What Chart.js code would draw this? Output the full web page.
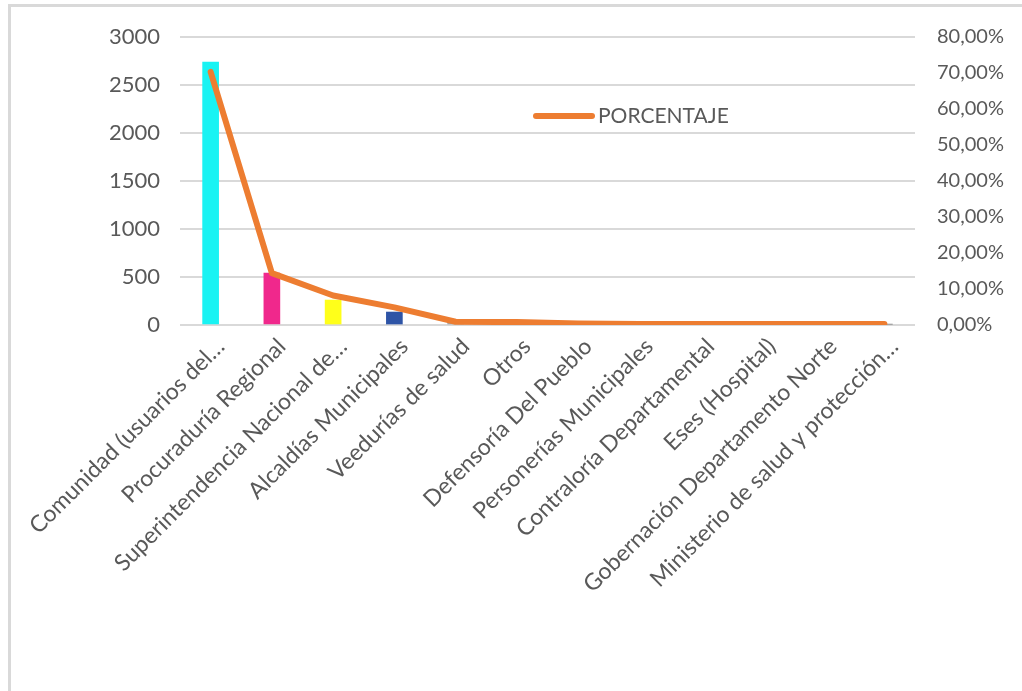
<!DOCTYPE html>
<html>
<head>
<meta charset="utf-8">
<script src="https://cdn.jsdelivr.net/npm/chart.js@4"></script>
<style>
  html, body { margin: 0; padding: 0; background: #fff; }
  #frame { position: absolute; left: 8px; top: 4px; right: -10px; bottom: -10px;
           border-left: 3px solid #d9d9d9; border-top: 3px solid #d9d9d9; }
  #wrap { position: absolute; left: 0; top: 0; width: 1022px; height: 691px; }
</style>
</head>
<body>
<div id="frame"></div>
<div id="wrap"><canvas id="chart"></canvas></div>
<script>
// Categorías (eje X)
const categorias = [
    'Comunidad (usuarios del…',
    'Procuraduría Regional',
    'Superintendencia Nacional de…',
    'Alcaldías Municipales',
    'Veedurías de salud',
    'Otros',
    'Defensoría Del Pueblo',
    'Personerías Municipales',
    'Contraloría Departamental',
    'Eses (Hospital)',
    'Gobernación Departamento Norte',
    'Ministerio de salud y protección…'
];

// Cantidad por entidad (eje izquierdo)
const cantidades = [2740, 540, 260, 135, 30, 25, 10, 8, 6, 5, 4, 3];

// Porcentaje (eje derecho)
const porcentajes = [70.3, 14.4, 8.2, 4.9, 0.9, 0.8, 0.4, 0.3, 0.3, 0.3, 0.3, 0.3];

const coloresBarras = ['#19f3f3', '#f0288c', '#ffff1a', '#2e54a6', '#a5a5a5', '#a5a5a5',
                       '#a5a5a5', '#a5a5a5', '#a5a5a5', '#a5a5a5', '#a5a5a5', '#a5a5a5'];

const leftTicks = [0, 500, 1000, 1500, 2000, 2500, 3000];

const FONT = 'Lato, "Open Sans", sans-serif';
const TXT = '#595959';

// leyenda dentro del área del gráfico
const insideLegend = {
    id: 'insideLegend',
    afterDraw(chart) {
        const ds = chart.data.datasets.find(d => d.type === 'line');
        const ctx = chart.ctx;
        const a = chart.chartArea;
        const x0 = a.left + 356, y0 = a.top + 79;
        ctx.save();
        ctx.strokeStyle = ds.borderColor;
        ctx.lineWidth = 6;
        ctx.lineCap = 'round';
        ctx.beginPath();
        ctx.moveTo(x0, y0);
        ctx.lineTo(x0 + 56, y0);
        ctx.stroke();
        ctx.fillStyle = TXT;
        ctx.font = '21px ' + FONT;
        ctx.textBaseline = 'middle';
        ctx.fillText(ds.label, x0 + 62, y0);
        ctx.restore();
    }
};

new Chart(document.getElementById('chart'), {
    data: {
        labels: categorias,
        datasets: [
            {
                type: 'line',
                label: 'PORCENTAJE',
                data: porcentajes,
                yAxisID: 'y1',
                borderColor: '#ed7d31',
                borderWidth: 6,
                borderCapStyle: 'round',
                borderJoinStyle: 'round',
                tension: 0,
                pointRadius: 0,
                order: 0
            },
            {
                type: 'bar',
                label: 'CANTIDAD',
                data: cantidades,
                yAxisID: 'y',
                backgroundColor: coloresBarras,
                barThickness: 16,
                order: 1
            }
        ]
    },
    options: {
        responsive: true,
        maintainAspectRatio: false,
        animation: false,
        layout: { padding: { top: 37, left: 0, right: 0, bottom: 0 } },
        plugins: { legend: { display: false }, tooltip: { enabled: false } },
        scales: {
            x: {
                grid: { display: false, drawTicks: false },
                border: { display: false },
                ticks: {
                    color: TXT, font: { family: FONT, size: 23 },
                    minRotation: 45, maxRotation: 45, padding: 8, labelOffset: 10, autoSkip: false
                },
                afterFit: s => { s.height = 366; }
            },
            y: {
                position: 'left',
                min: 0, max: 3000,
                afterBuildTicks: s => { s.ticks = leftTicks.map(v => ({ value: v })); },
                grid: { color: '#d9d9d9', lineWidth: 2, drawTicks: false },
                border: { display: false },
                ticks: { color: TXT, font: { family: FONT, size: 22 }, padding: 20, callback: v => String(v) },
                afterFit: s => { s.width = 180; }
            },
            y1: {
                position: 'right',
                min: 0, max: 80,
                ticks: {
                    stepSize: 10, color: TXT, font: { family: FONT, size: 20 }, padding: 22,
                    callback: v => v.toFixed(2).replace('.', ',') + '%'
                },
                grid: { display: false, drawTicks: false },
                border: { display: false },
                afterFit: s => { s.width = 107; }
            }
        }
    },
    plugins: [insideLegend]
});
</script>
</body>
</html>
